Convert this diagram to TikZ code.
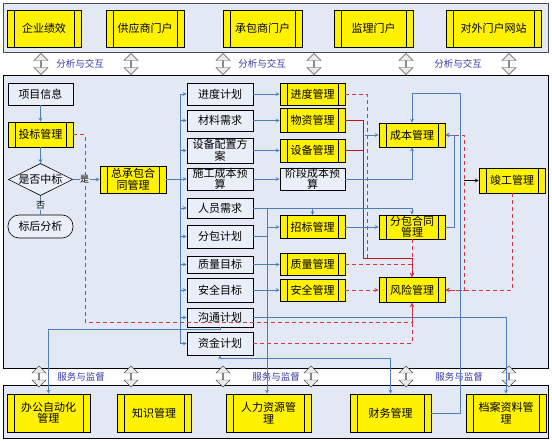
\documentclass[tikz,border=0pt]{standalone}
\usepackage{fontspec}
\setmainfont{Noto Sans CJK SC}
\usetikzlibrary{shapes.geometric,shapes.arrows,arrows,calc,positioning}
\definecolor{bandbg}{RGB}{226,233,244}
\definecolor{boxbg}{RGB}{233,239,248}
\definecolor{lineblue}{RGB}{79,125,185}
\definecolor{linered}{RGB}{210,55,70}
\definecolor{darkred}{RGB}{190,20,30}
\definecolor{labblue}{RGB}{55,55,170}
\tikzstyle{yb} = [draw=black, fill=yellow, line width=0.6pt, inner sep=0pt, align=center,
path picture={\draw[line width=0.6pt] ([xshift=7pt]path picture bounding box.north west) -- ([xshift=7pt]path picture bounding box.south west)
([xshift=-7pt]path picture bounding box.north east) -- ([xshift=-7pt]path picture bounding box.south east);}]
\tikzstyle{wb} = [draw=black, fill=boxbg, line width=0.6pt, inner sep=0pt, align=center]
\tikzstyle{bl} = [draw=lineblue, line width=0.8pt, ->]
\tikzstyle{rd} = [draw=linered, line width=0.9pt, dash pattern=on 4pt off 3pt, ->]
\tikzstyle{rs} = [draw=darkred, line width=0.9pt]
\tikzstyle{darr} = [double arrow, rotate=90, draw=gray!60!black, fill=gray!15, inner sep=0pt,
minimum height=21pt, minimum width=14pt, double arrow head extend=4pt]
\tikzstyle{lab} = [text=labblue, font=\fontsize{9.5}{11}\selectfont]
\tikzset{>=stealth}

\begin{document}
\begin{tikzpicture}[x=1pt,y=-1pt,font=\fontsize{11}{11.5}\selectfont]
            \useasboundingbox (0,0) rectangle (552,441);
            % bands
            \draw[draw=gray!60!black, fill=bandbg, line width=0.8pt] (3,3) rectangle (548,52);
            \draw[draw=black, fill=bandbg, line width=0.8pt] (3,75) rectangle (548,368);
            \draw[draw=black, fill=bandbg, line width=0.8pt] (3,385) rectangle (548,438);
            % top portals
            \node[yb, minimum width=74pt, minimum height=37pt] (qyjx) at (44,28.5) {企业绩效};
            \node[yb, minimum width=78pt, minimum height=37pt] (gysmh) at (145,28.5) {供应商门户};
            \node[yb, minimum width=79pt, minimum height=37pt] (cbsmh) at (262.5,28.5) {承包商门户};
            \node[yb, minimum width=79pt, minimum height=37pt] (jlmh) at (373.5,28.5) {监理门户};
            \node[yb, minimum width=95pt, minimum height=37pt] (dwmh) at (493.5,28.5) {对外门户网站};
            \foreach \x [count=\i] in {41,131,223,314,406,509}
              \node[darr] (up\i) at (\x,64) {};
            \foreach \x [count=\i] in {80,262,458}
              \node[lab] (fxjh\i) at (\x,64) {分析与交互};
            % bottom services
            \foreach \x [count=\i] in {39,131,223,311,406,509}
              \node[darr] (dn\i) at (\x,376.5) {};
            \foreach \x [count=\i] in {81,276,459}
              \node[lab] (fwjd\i) at (\x,376.5) {服务与监督};
            \node[yb, minimum width=83pt, minimum height=38pt] (oa) at (48.5,413) {办公自动化\\管理};
            \node[yb, minimum width=74pt, minimum height=38pt] (zsgl) at (154,413) {知识管理};
            \node[yb, minimum width=85pt, minimum height=38pt] (rlzy) at (268.5,413) {人力资源管\\理};
            \node[yb, minimum width=81pt, minimum height=38pt] (cwgl) at (390.5,413) {财务管理};
            \node[yb, minimum width=80pt, minimum height=38pt] (dazl) at (506,413) {档案资料管\\理};
            % bidding flow
            \node[wb, minimum width=65pt, minimum height=22pt] (xmxx) at (40.5,94) {项目信息};
            \node[yb, minimum width=65pt, minimum height=25pt] (tbgl) at (40.5,134.5) {投标管理};
            \node[draw=black, fill=boxbg, line width=0.6pt, diamond, aspect=2, inner sep=0pt] (sfzb) at (40.5,179.5) {是否中标};
            \node[draw=black, fill=boxbg, line width=0.6pt, rounded corners=11pt, minimum width=65pt, minimum height=23pt, inner sep=0pt] (bhfx) at (40.5,226.5) {标后分析};
            \node[yb, minimum width=66pt, minimum height=27pt] (zcb) at (133,179.5) {总承包合\\同管理};
            % plans
            \node[wb, minimum width=66pt, minimum height=22pt] (jdjh) at (220,94) {进度计划};
            \node[wb, minimum width=66pt, minimum height=21pt] (clxq) at (220,120.5) {材料需求};
            \node[wb, minimum width=66pt, minimum height=25pt] (sbpz) at (220,150.5) {设备配置方\\案};
            \node[wb, minimum width=66pt, minimum height=22pt] (sgcb) at (220,179) {施工成本预\\算};
            \node[wb, minimum width=66pt, minimum height=20pt] (ryxq) at (220,208) {人员需求};
            \node[wb, minimum width=66pt, minimum height=23pt] (fbjh) at (220,236.5) {分包计划};
            \node[wb, minimum width=66pt, minimum height=17pt] (zlmb) at (220,264.5) {质量目标};
            \node[wb, minimum width=66pt, minimum height=24pt] (aqmb) at (220,290) {安全目标};
            \node[wb, minimum width=66pt, minimum height=19pt] (gtjh) at (220,317.5) {沟通计划};
            \node[wb, minimum width=66pt, minimum height=23pt] (zjjh) at (220,343.5) {资金计划};
            % management
            \node[yb, minimum width=65pt, minimum height=22pt] (jdgl) at (312.5,94) {进度管理};
            \node[yb, minimum width=65pt, minimum height=24pt] (wzgl) at (312.5,120.5) {物资管理};
            \node[yb, minimum width=65pt, minimum height=23pt] (sbgl) at (312.5,150.5) {设备管理};
            \node[wb, minimum width=65pt, minimum height=21pt] (jdcb) at (312.5,179) {阶段成本预\\算};
            \node[yb, minimum width=65pt, minimum height=23pt] (zbgl) at (312.5,227) {招标管理};
            \node[yb, minimum width=65pt, minimum height=22pt] (zlgl) at (312.5,264.5) {质量管理};
            \node[yb, minimum width=65pt, minimum height=22pt] (aqgl) at (312.5,290) {安全管理};
            \node[yb, minimum width=66pt, minimum height=24pt] (cbgl) at (412,135) {成本管理};
            \node[yb, minimum width=66pt, minimum height=24pt] (fbht) at (412,227) {分包合同\\管理};
            \node[yb, minimum width=66pt, minimum height=25pt] (fxgl) at (412,290) {风险管理};
            \node[yb, minimum width=66pt, minimum height=25pt] (jggl) at (512,180.5) {竣工管理};
            % helper points
            \coordinate (bus) at (180,179.5);
            \coordinate (rv) at (267,208);
            \coordinate (rtop) at (367,94);
            \coordinate (rbot) at (365,258);
            \coordinate (rb) at (365,135);
            \coordinate (rr) at (464,135);
            \coordinate (jgin) at (464,180.5);
            \coordinate (tbr) at (85,322);
            \coordinate (cwtop) at (460,93);
            % red risk lines
            \draw[rd,-] (jdgl.east) -- (rtop) -- (rtop |- rbot);
            \draw[rs] (wzgl.east) -| ($(rbot)+(-2,0)$);
            \draw[rs] (sbgl.east) -| ($(rbot)+(-2,0)$);
            \draw[rs,->] ($(rbot)+(-2,0)$) -| (fxgl.north);
            \draw[rd] (fbht.south) -- (fxgl.north);
            \draw[rd,-] (zlgl.east) -- (zlgl.east -| fxgl.north);
            \draw[rd] (aqgl.east) -- (fxgl.west);
            \draw[rd] (tbgl.east) -| (tbr) -| (fxgl.south);
            \draw[rd] (zjjh.east) -| (fxgl.south);
            \draw[rd,<->] (cbgl.east) -- (rr) |- (fxgl.east);
            \draw[rd] (jggl.south) |- (fxgl.east);
            % blue flow
            \draw[bl] (xmxx) -- (tbgl);
            \draw[bl] (tbgl) -- (sfzb);
            \draw[draw=lineblue, line width=0.8pt] (sfzb) -- node[fill=bandbg, inner sep=0.5pt, font=\fontsize{9}{10}\selectfont] (fou) {否} (bhfx);
            \draw[bl] (sfzb) -- node[fill=bandbg, inner sep=0.5pt, pos=0.44, font=\fontsize{9}{10}\selectfont] (shi) {是} (zcb);
            \draw[draw=lineblue, line width=0.8pt] (zcb.east) -- (bus);
            \draw[draw=lineblue, line width=0.8pt] (bus |- jdjh.west) -- (bus |- zjjh.west);
            \foreach \n in {jdjh,clxq,sbpz,sgcb,ryxq,fbjh,zlmb,aqmb,gtjh,zjjh}
              \draw[bl] (bus |- \n.west) -- (\n.west);
            \draw[bl] (jdjh) -- (jdgl);
            \draw[bl] (clxq) -- (wzgl);
            \draw[bl] (sbpz) -- (sbgl);
            \draw[bl] (sgcb) -- (jdcb);
            \draw[bl] (zlmb) -- (zlgl);
            \draw[bl] (aqmb) -- (aqgl);
            \draw[bl] (jdcb.east) -| (cbgl.south);
            \draw[bl] (ryxq.east) -| (fbht.north);
            \draw[bl] (ryxq.east -| zbgl.north) -- (zbgl.north);
            \draw[bl] (rv) -- (rv |- rlzy.north);
            \draw[bl] (fbjh.east) -- (rv |- fbjh.east) |- (zbgl.west);
            \draw[bl] (zbgl) -- (fbht);
            \draw[bl] (fbht.east) -- ++(9,0) |- (cbgl.east);
            \draw[bl] (rb) -- (cbgl.west);
            \draw[bl] (cwgl.east) -| (cwtop) -| (cbgl.north);
            \draw[bl] (gtjh.east) -| (dazl.north);
            \draw[bl] (gtjh.south) -- ++(0,2) -| (oa.north);
            \draw[bl,<->] (zjjh.south) -- ++(0,3) -| (cwgl.north);
            \draw[->, line width=0.8pt] (jgin) -- (jggl.west);
        \end{tikzpicture}
\end{document}
